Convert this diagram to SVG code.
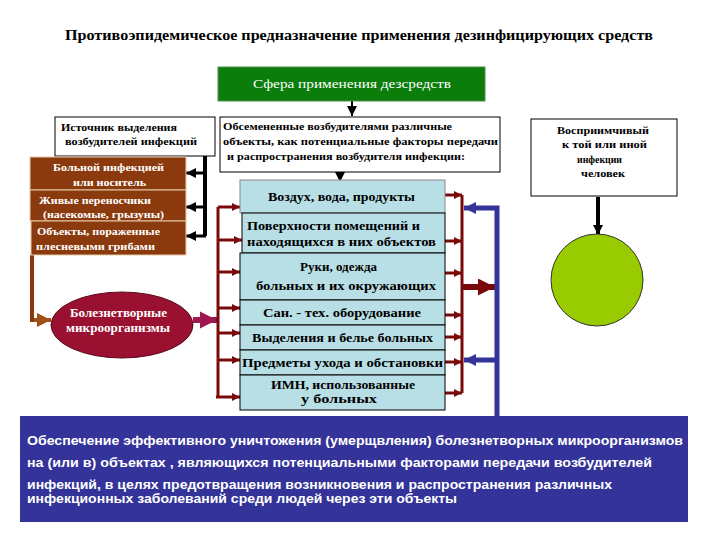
<svg xmlns="http://www.w3.org/2000/svg" width="720" height="540" viewBox="0 0 720 540">
<style>
.ser{font-family:"Liberation Serif","Times New Roman",serif;font-weight:bold;font-size:11px}
.ser12{font-family:"Liberation Serif","Times New Roman",serif;font-weight:bold;font-size:12px;fill:#000}
.wb{fill:#fff;stroke:#000;stroke-width:1}
.brown{fill:#8b3a0e;stroke:#e6c9a8;stroke-width:1}
.lb{fill:#b9dfe6;stroke:#000;stroke-width:1}
.wt{fill:#fff}
.bt{fill:#000}
.blk{stroke:#000;stroke-width:4;fill:none}
.mar{stroke:#7a0a0a;stroke-width:3;fill:none}
.blu{stroke:#333399;stroke-width:5;fill:none}
.sans{font-family:"Liberation Sans",Arial,sans-serif;font-weight:bold;font-size:12px;fill:#fff}
</style>
<defs>
<marker id="ablk" markerUnits="userSpaceOnUse" viewBox="0 0 10 10" refX="10" refY="5" markerWidth="10" markerHeight="10" orient="auto"><path d="M0,0L10,5L0,10z" fill="#000"/></marker>
<marker id="amar" markerUnits="userSpaceOnUse" viewBox="0 0 10 10" refX="10" refY="5" markerWidth="9" markerHeight="8" orient="auto"><path d="M0,0L10,5L0,10z" fill="#7a0a0a"/></marker>
<marker id="abig" markerUnits="userSpaceOnUse" viewBox="0 0 10 10" refX="10" refY="5" markerWidth="17" markerHeight="17" orient="auto"><path d="M0,0L10,5L0,10z" fill="#7a0a0a"/></marker>
<marker id="ablu" markerUnits="userSpaceOnUse" viewBox="0 0 10 10" refX="10" refY="5" markerWidth="12" markerHeight="13" orient="auto"><path d="M0,0L10,5L0,10z" fill="#333399"/></marker>
<marker id="abrn" markerUnits="userSpaceOnUse" viewBox="0 0 10 10" refX="10" refY="5" markerWidth="16" markerHeight="14" orient="auto"><path d="M0,0L10,5L0,10z" fill="#a0501a"/></marker>
<marker id="apnk" markerUnits="userSpaceOnUse" viewBox="0 0 10 10" refX="10" refY="5" markerWidth="17" markerHeight="18" orient="auto"><path d="M0,0L10,5L0,10z" fill="#a01850"/></marker>
</defs>
<rect width="720" height="540" fill="#fff"/>

<text class="ser" x="65" y="40" style="font-size:14px" textLength="588" lengthAdjust="spacingAndGlyphs">Противоэпидемическое предназначение применения дезинфицирующих средств</text>

<g id="connectors">
<line class="blk" x1="352" y1="100" x2="352" y2="116" style="stroke-width:2" marker-end="url(#ablk)"/>
<line class="blk" x1="340" y1="172" x2="340" y2="182" style="stroke-width:2" marker-end="url(#ablk)"/>
<line class="blk" x1="598" y1="197" x2="598" y2="235" marker-end="url(#ablk)"/>
<path class="blk" d="M205,156V236"/>
<line class="blk" x1="205" y1="173" x2="186" y2="173" style="stroke-width:3" marker-end="url(#ablk)"/>
<line class="blk" x1="205" y1="207" x2="186" y2="207" style="stroke-width:3" marker-end="url(#ablk)"/>
<line class="blk" x1="206" y1="236" x2="186" y2="236" style="stroke-width:3" marker-end="url(#ablk)"/>
<path d="M32,255V320H36" fill="none" stroke="#8b3a0e" stroke-width="4"/>
<line x1="34" y1="320" x2="51" y2="320" stroke="#a0501a" stroke-width="4" marker-end="url(#abrn)"/>
<line x1="193" y1="320" x2="217" y2="320" stroke="#a01850" stroke-width="6" marker-end="url(#apnk)"/>
<path class="mar" d="M218,207V397"/>
<line class="mar" x1="218" y1="207" x2="240" y2="207" marker-end="url(#amar)"/>
<line class="mar" x1="218" y1="240" x2="242" y2="240" marker-end="url(#amar)"/>
<line class="mar" x1="218" y1="272" x2="240" y2="272" marker-end="url(#amar)"/>
<line class="mar" x1="218" y1="308" x2="240" y2="308" marker-end="url(#amar)"/>
<line class="mar" x1="218" y1="333" x2="240" y2="333" marker-end="url(#amar)"/>
<line class="mar" x1="218" y1="360" x2="240" y2="360" marker-end="url(#amar)"/>
<line class="mar" x1="216" y1="397" x2="240" y2="397" marker-end="url(#amar)"/>
<path class="mar" d="M462,195V393"/>
<line class="mar" x1="445" y1="195" x2="462" y2="195" marker-end="url(#amar)"/>
<line class="mar" x1="445" y1="241" x2="462" y2="241" marker-end="url(#amar)"/>
<line class="mar" x1="445" y1="273" x2="462" y2="273" marker-end="url(#amar)"/>
<line class="mar" x1="445" y1="315" x2="462" y2="315" marker-end="url(#amar)"/>
<line class="mar" x1="445" y1="337" x2="462" y2="337" marker-end="url(#amar)"/>
<line class="mar" x1="445" y1="362" x2="462" y2="362" marker-end="url(#amar)"/>
<line class="mar" x1="445" y1="393" x2="462" y2="393" marker-end="url(#amar)"/>
<line x1="462" y1="287" x2="495" y2="287" stroke="#7a0a0a" stroke-width="6" marker-end="url(#abig)"/>
<path class="blu" d="M497,416V208H474"/>
<line class="blu" x1="476" y1="208" x2="464" y2="208" marker-end="url(#ablu)"/>
<line class="blu" x1="497" y1="360" x2="464" y2="360" marker-end="url(#ablu)"/>
</g>

<g id="sfera">
<rect x="218" y="67" width="267" height="34" fill="#0b7d0b" stroke="#5a8a5a" stroke-width="1"/>
<text class="ser" x="253" y="88" style="font-weight:normal;font-size:12px" fill="#fff" textLength="198" lengthAdjust="spacingAndGlyphs">Сфера  применения дезсредств</text>
</g>

<g id="istochnik">
<rect class="wb" x="55" y="117" width="160" height="39"/>
<text class="ser bt" x="61" y="131" textLength="116" lengthAdjust="spacingAndGlyphs">Источник выделения</text>
<text class="ser bt" x="65" y="145" textLength="132" lengthAdjust="spacingAndGlyphs">возбудителей инфекций</text>
</g>

<g id="obsemenennye">
<rect class="wb" x="220" y="117" width="280" height="55"/>
<text class="ser bt" x="223" y="130" textLength="229" lengthAdjust="spacingAndGlyphs">Обсемененные возбудителями различные</text>
<text class="ser bt" x="223" y="145" textLength="275" lengthAdjust="spacingAndGlyphs">объекты, как потенциальные  факторы передачи</text>
<text class="ser bt" x="227" y="160" textLength="238" lengthAdjust="spacingAndGlyphs">и распространения возбудителя инфекции:</text>
</g>

<g id="vospriimchivy">
<rect class="wb" x="531" y="119" width="146" height="77"/>
<text class="ser bt" x="557" y="134" textLength="92" lengthAdjust="spacingAndGlyphs">Восприимчивый</text>
<text class="ser bt" x="562" y="148" textLength="85" lengthAdjust="spacingAndGlyphs">к той или иной</text>
<text class="ser bt" x="577" y="163" textLength="45" lengthAdjust="spacingAndGlyphs">инфекции</text>
<text class="ser bt" x="581" y="177" textLength="44" lengthAdjust="spacingAndGlyphs">человек</text>
</g>

<g id="bolnoy">
<rect class="brown" x="30" y="157" width="156" height="33"/>
<text class="ser wt" x="53" y="171" textLength="111" lengthAdjust="spacingAndGlyphs">Больной инфекцией</text>
<text class="ser wt" x="73" y="186" textLength="73" lengthAdjust="spacingAndGlyphs">или носитель</text>
</g>
<g id="perenoschiki">
<rect class="brown" x="30" y="190" width="156" height="31"/>
<text class="ser wt" x="39" y="204" textLength="112" lengthAdjust="spacingAndGlyphs">Живые переносчики</text>
<text class="ser wt" x="43" y="218" textLength="121" lengthAdjust="spacingAndGlyphs">(насекомые, грызуны)</text>
</g>
<g id="obekty">
<rect class="brown" x="31" y="221" width="155" height="34"/>
<text class="ser wt" x="37" y="235" textLength="123" lengthAdjust="spacingAndGlyphs">Объекты, пораженные</text>
<text class="ser wt" x="36" y="250" textLength="119" lengthAdjust="spacingAndGlyphs">плесневыми грибами</text>
</g>

<g id="mikroorganizmy">
<ellipse cx="122" cy="325" rx="71" ry="33" fill="#9a1030" stroke="#5a0a1a" stroke-width="1"/>
<text class="ser wt" x="70" y="317" style="font-size:12px" textLength="97" lengthAdjust="spacingAndGlyphs">Болезнетворные</text>
<text class="ser wt" x="66" y="332" style="font-size:12px" textLength="104" lengthAdjust="spacingAndGlyphs">микроорганизмы</text>
</g>

<g id="vozduh">
<rect class="lb" x="240" y="180" width="205" height="33" style="stroke:#888"/>
<text class="ser12" x="268" y="201" textLength="147" lengthAdjust="spacingAndGlyphs">Воздух, вода, продукты</text>
</g>
<g id="poverhnosti">
<rect class="lb" x="242" y="213" width="203" height="40"/>
<text class="ser12" x="247" y="230" textLength="173" lengthAdjust="spacingAndGlyphs">Поверхности помещений и</text>
<text class="ser12" x="247" y="246" textLength="189" lengthAdjust="spacingAndGlyphs">находящихся в них объектов</text>
</g>
<g id="ruki">
<rect class="lb" x="240" y="253" width="205" height="47"/>
<text class="ser12" x="300" y="271" textLength="77" lengthAdjust="spacingAndGlyphs">Руки, одежда</text>
<text class="ser12" x="256" y="290" textLength="180" lengthAdjust="spacingAndGlyphs">больных и  их окружающих</text>
</g>
<g id="santeh">
<rect class="lb" x="240" y="300" width="205" height="25"/>
<text class="ser12" x="263" y="317" textLength="158" lengthAdjust="spacingAndGlyphs">Сан. - тех. оборудование</text>
</g>
<g id="vydeleniya">
<rect class="lb" x="240" y="325" width="205" height="25"/>
<text class="ser12" x="252" y="342" textLength="181" lengthAdjust="spacingAndGlyphs">Выделения и белье больных</text>
</g>
<g id="predmety">
<rect class="lb" x="240" y="350" width="205" height="25"/>
<text class="ser12" x="242" y="367" textLength="201" lengthAdjust="spacingAndGlyphs">Предметы ухода и обстановки</text>
</g>
<g id="imn">
<rect class="lb" x="240" y="375" width="205" height="35"/>
<text class="ser12" x="271" y="389" textLength="144" lengthAdjust="spacingAndGlyphs">ИМН, использованные</text>
<text class="ser12" x="301" y="403" textLength="76" lengthAdjust="spacingAndGlyphs">у больных</text>
</g>

<g id="chelovek">
<circle cx="597" cy="280" r="46" fill="#99cc00" stroke="#333" stroke-width="1"/>
</g>

<g id="obespechenie">
<rect x="20" y="416" width="668" height="106" fill="#333399"/>
<text class="sans" x="27" y="445" textLength="656" lengthAdjust="spacingAndGlyphs">Обеспечение эффективного  уничтожения (умерщвления) болезнетворных микроорганизмов</text>
<text class="sans" x="27" y="467" textLength="625" lengthAdjust="spacingAndGlyphs">на (или в) объектах ,   являющихся потенциальными факторами передачи возбудителей</text>
<text class="sans" x="27" y="489" textLength="585" lengthAdjust="spacingAndGlyphs">инфекций, в целях предотвращения возникновения и распространения различных</text>
<text class="sans" x="27" y="503" textLength="430" lengthAdjust="spacingAndGlyphs">инфекционных заболеваний среди людей через эти объекты</text>
</g>
</svg>
